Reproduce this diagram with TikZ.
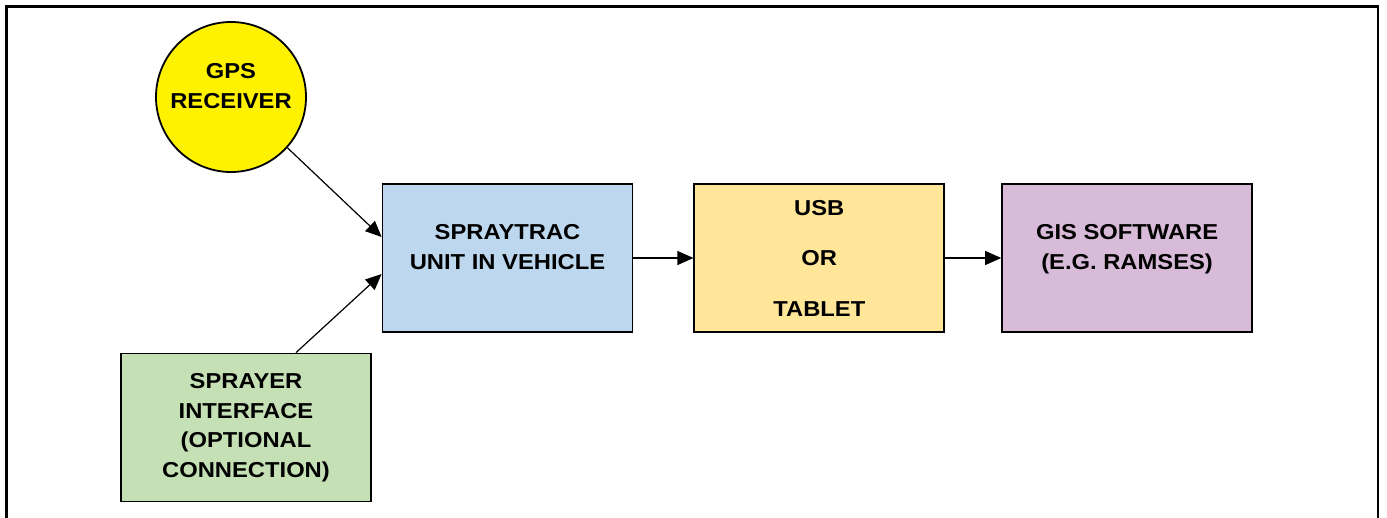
\documentclass[tikz,border=0pt]{standalone}
\usepackage{fontspec}
\setmainfont{Liberation Sans}[FakeStretch=1.1]
\usepackage{tikz}
\usetikzlibrary{
	positioning,
	arrows.meta
}
\definecolor{unitblue}{RGB}{189,215,238}
\definecolor{usbyellow}{RGB}{255,230,153}
\definecolor{gispurple}{RGB}{216,187,216}
\definecolor{sprayergreen}{RGB}{197,224,180}

\begin{document}
\begin{tikzpicture}[
		x=1pt, y=1pt,
		node distance=30pt,
		font=\fontsize{10.8pt}{14.75pt}\selectfont\bfseries,
		block/.style={draw,line width=0.9pt,minimum width=125pt,minimum height=74pt,align=center},
		raised/.style={text depth=10.9pt},
		link/.style={line width=0.6pt,-{Triangle[length=8pt,width=7pt]}}
	]
		\useasboundingbox (0,0) rectangle (693.5,-259);
		\draw[line width=1.25pt] (3.25,-259) |- (689,-3.25) -- (689,-259);

		\node[circle,draw,line width=0.9pt,fill=yellow,minimum size=75pt,inner sep=0pt,align=center,raised]
			at (115.5,-48.5) (gps) {GPS\\RECEIVER};
		\node[block,raised,fill=unitblue] at (253.75,-129) (unit) {SPRAYTRAC\\UNIT IN VEHICLE};
		\node[block,fill=usbyellow,right=of unit] (usb) {USB\\[10.5pt]OR\\[10.5pt]TABLET};
		\node[block,raised,fill=gispurple,right=28pt of usb] (gis) {GIS SOFTWARE\\(E.G. RAMSES)};
		\node[block,fill=sprayergreen] at (123,-213.75) (sprayer) {SPRAYER\\INTERFACE\\(OPTIONAL\\CONNECTION)};

		\draw[link] (gps.-42) -- ([yshift=10.5pt]unit.west);
		\draw[link] ([xshift=25pt]sprayer.north) -- ([yshift=-8pt]unit.west);
		\draw[link] (unit) -- (usb);
		\draw[link] (usb) -- (gis);
	\end{tikzpicture}
\end{document}
